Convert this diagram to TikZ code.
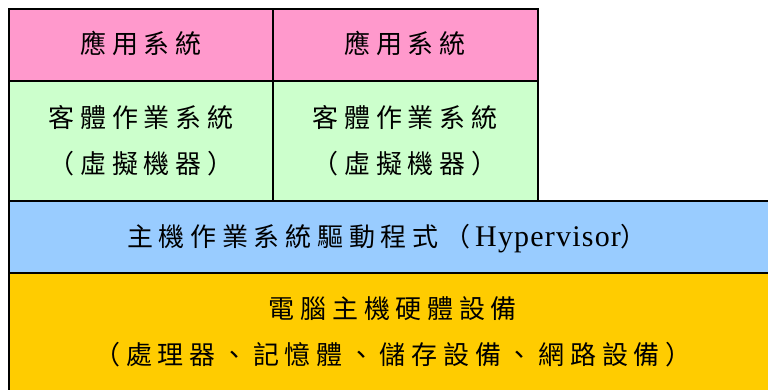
\documentclass[tikz,border=0pt]{standalone}
\usepackage{fontspec}
\setmainfont{Liberation Serif}
\newfontfamily\cjk[LetterSpace=22]{Noto Sans CJK TC}
\newfontfamily\lat[LetterSpace=4]{Liberation Serif}
\definecolor{apppink}{HTML}{FF99CC}
\definecolor{guestgreen}{HTML}{CCFFCC}
\definecolor{hostblue}{HTML}{99CCFF}
\definecolor{hwgold}{HTML}{FFCC00}
\begin{document}
\begin{tikzpicture}[x=1pt,y=-1pt,
  layer/.style={draw=black,line width=1.5pt,anchor=north west,inner sep=0pt,outer sep=0pt},
  txt/.style={anchor=base,inner sep=0pt,font=\fontsize{26}{26}\cjk}]
\useasboundingbox (0,0) rectangle (768,390);
\fill[white] (0,0) rectangle (768,390);
% hardware layer
\node[layer,fill=hwgold,minimum width=782pt,minimum height=140pt] (hw) at (9,273) {};
% host / hypervisor layer
\node[layer,fill=hostblue,minimum width=782pt,minimum height=72pt] (host) at (9,201) {};
% guest OS
\node[layer,fill=guestgreen,minimum width=264pt,minimum height=120pt] (g1) at (9,81) {};
\node[layer,fill=guestgreen,minimum width=265pt,minimum height=120pt] (g2) at (273,81) {};
% applications
\node[layer,fill=apppink,minimum width=264pt,minimum height=72pt] (a1) at (9,9) {};
\node[layer,fill=apppink,minimum width=265pt,minimum height=72pt] (a2) at (273,9) {};
% texts
\node[txt] (ta1) at (141,54) {應用系統};
\node[txt] (ta2) at (405,54) {應用系統};
\node[txt] (tg1a) at (141,128) {客體作業系統};
\node[txt] (tg1b) at (141,174) {（虛擬機器）};
\node[txt] (tg2a) at (405,128) {客體作業系統};
\node[txt] (tg2b) at (405,174) {（虛擬機器）};
\node[txt] (th) at (387,246) {主機作業系統驅動程式（\hspace{5pt}{\lat\fontsize{30}{30}\selectfont Hypervisor}）};
\node[txt] (thw1) at (393,318) {電腦主機硬體設備};
\node[txt] (thw2) at (393,364) {（處理器、記憶體、儲存設備、網路設備）};
\end{tikzpicture}
\end{document}
